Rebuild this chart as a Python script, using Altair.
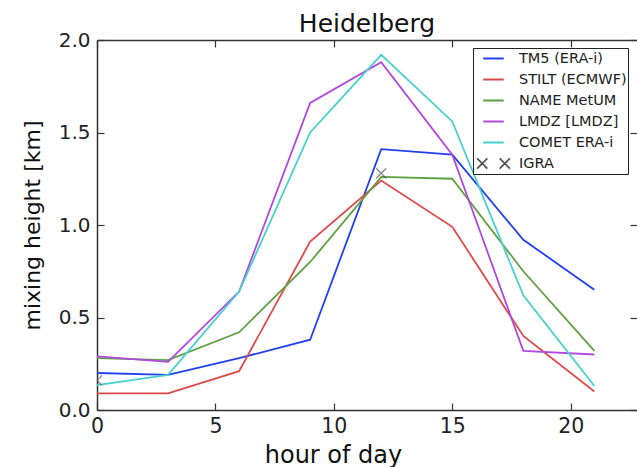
import altair as alt
import pandas as pd

# ---- data ----
hours = [0, 3, 6, 9, 12, 15, 18, 21]
models = ["TM5 (ERA-i)", "STILT (ECMWF)", "NAME MetUM", "LMDZ [LMDZ]", "COMET ERA-i"]
tm5 = [0.20, 0.19, 0.28, 0.38, 1.41, 1.38, 0.92, 0.65]
stilt = [0.09, 0.09, 0.21, 0.91, 1.24, 0.99, 0.40, 0.10]
name_metum = [0.28, 0.27, 0.42, 0.80, 1.26, 1.25, 0.75, 0.32]
lmdz = [0.29, 0.26, 0.64, 1.66, 1.88, 1.38, 0.32, 0.30]
comet = [0.135, 0.19, 0.64, 1.50, 1.92, 1.56, 0.62, 0.13]
igra_hours = [0, 12]
igra_values = [0.16, 1.28]
igra_label = "IGRA"
line_colors = ["#2040f0", "#e04848", "#5fa043", "#b048e0", "#48d0d0"]
igra_color = "#555555"
x_ticks = [0, 5, 10, 15, 20]
y_ticks = [0.0, 0.5, 1.0, 1.5, 2.0]

rows = []
for m, vals in zip(models, [tm5, stilt, name_metum, lmdz, comet]):
    for h, v in zip(hours, vals):
        rows.append({"hour": h, "height": v, "model": m})
lines_df = pd.DataFrame(rows)
igra_df = pd.DataFrame({"hour": igra_hours, "height": igra_values, "model": [igra_label] * len(igra_hours)})

FONT = "DejaVu Sans"
AX = "#333333"
domain_all = models + [igra_label]
cross = "M-1,-1L1,1M-1,1L1,-1"
double_cross = "M-1.6,-0.5L-0.6,0.5M-1.6,0.5L-0.6,-0.5M0.6,-0.5L1.6,0.5M0.6,0.5L1.6,-0.5"
color_scale = alt.Scale(domain=domain_all, range=line_colors + [igra_color])
shape_scale = alt.Scale(domain=domain_all, range=["stroke"] * len(models) + [double_cross])
xscale = alt.Scale(domain=[0, 22.8], nice=False, zero=False)
yscale = alt.Scale(domain=[0, 2], nice=False, zero=False)

W, H = 540, 370

def tick_axis(orient, offset, vals):
    return alt.Axis(orient=orient, offset=offset, values=vals, labels=False, domain=False,
                    ticks=True, tickSize=7, tickColor=AX, tickWidth=1.2, grid=False, title=None)

x_main = alt.Axis(orient="bottom", values=x_ticks, format="d", grid=False, ticks=False, tickSize=0,
                  domain=True, domainColor=AX, domainWidth=1.5,
                  labelFont=FONT, labelFontSize=20.5, labelColor="#222", labelPadding=6,
                  labelFlush=False, labelOverlap=False,
                  title="hour of day", titleFont=FONT, titleFontSize=24, titleFontWeight="normal",
                  titleColor="#111", titleX=236, titleY=52, titleBaseline="alphabetic")
y_main = alt.Axis(orient="left", values=y_ticks, format=".1f", grid=False, ticks=False, tickSize=0,
                  domain=True, domainColor=AX, domainWidth=1.5,
                  labelFont=FONT, labelFontSize=20, labelColor="#222", labelPadding=7,
                  labelFlush=False, labelOverlap=False,
                  title="mixing height [km]", titleFont=FONT, titleFontSize=22, titleFontWeight="normal",
                  titleColor="#111", titleX=-53, titleBaseline="bottom")

leg = dict(orient="none", legendX=376, legendY=8, title=None, symbolSize=420,
           symbolStrokeWidth=1.8, labelFont=FONT, labelFontSize=14.5, labelColor="#222",
           labelOffset=14, symbolOffset=8, padding=1, rowPadding=2, clipHeight=19,
           strokeColor="#222", fillColor="white", cornerRadius=0, labelLimit=250)

lines = alt.Chart(lines_df).mark_line(strokeWidth=1.8).encode(
    x=alt.X("hour:Q", scale=xscale, axis=x_main),
    y=alt.Y("height:Q", scale=yscale, axis=y_main),
    color=alt.Color("model:N", scale=color_scale, legend=alt.Legend(**leg)),
    detail="model:N",
)

igra = alt.Chart(igra_df).mark_point(shape=cross, size=100, filled=False, strokeWidth=1.3,
                                     color=igra_color, clip=True).encode(
    x=alt.X("hour:Q", scale=xscale, axis=tick_axis("top", -H, x_ticks)),
    y=alt.Y("height:Q", scale=yscale, axis=tick_axis("right", -W, y_ticks)),
)

top_spine = alt.Axis(orient="bottom", offset=-H, values=x_ticks, labels=False, domain=True,
                     domainColor=AX, domainWidth=1.5, ticks=True, tickSize=7, tickColor=AX,
                     tickWidth=1.2, grid=False, title=None)

legend_layer = alt.Chart(igra_df).mark_point(filled=False, strokeWidth=1.8, opacity=1).encode(
    x=alt.X("hour:Q", scale=xscale, axis=top_spine),
    y=alt.Y("height:Q", scale=yscale, axis=tick_axis("left", -W, y_ticks)),
    color=alt.Color("model:N", scale=color_scale, legend=alt.Legend(**leg)),
    shape=alt.Shape("model:N", scale=shape_scale, legend=alt.Legend(**leg)),
).transform_filter("datum.hour < 0")

chart = alt.layer(lines, igra, legend_layer).resolve_axis(
    x="independent", y="independent"
).properties(
    width=W, height=H,
    title=alt.TitleParams("Heidelberg", font=FONT, fontSize=25, fontWeight="normal",
                          color="#111", anchor="middle", offset=6, dy=13),
    autosize=alt.AutoSizeParams(type="none"),
    padding={"left": 97, "top": 40, "right": 0, "bottom": 57},
).configure_view(stroke=None).configure(background="white")

chart.save("out.html", embed_options={"renderer": "svg", "actions": False})
